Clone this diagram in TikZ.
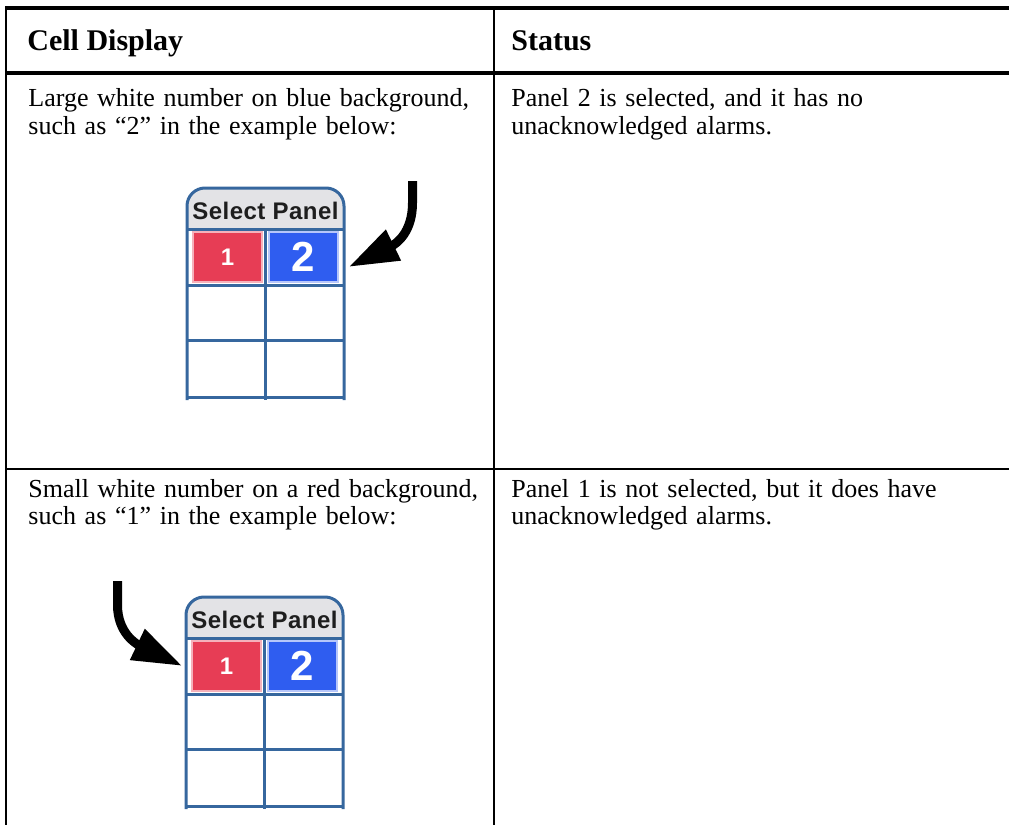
\documentclass[tikz,border=0pt]{standalone}
\usepackage{fontspec}
\setmainfont{Liberation Serif}[WordSpace=0.7]
\newfontfamily\headfont{Liberation Serif}
\newfontfamily\panelfont{Liberation Sans}[LetterSpace=2]
\usetikzlibrary{arrows.meta}
\definecolor{cellred}{HTML}{E73D55}
\definecolor{cellblue}{HTML}{2F5DF0}
\definecolor{gridblue}{HTML}{36679E}
\definecolor{headgrey}{HTML}{E3E3E6}
\definecolor{paneltext}{HTML}{1E1E1E}
\newcommand\selpanel[3]{%
  \begin{scope}[shift={(#2,#3)}]
    \fill[headgrey, rounded corners=9pt] (0,0) rectangle (157,60);
    \fill[white] (0,41) rectangle (157,62);
    \draw[panelrule, rounded corners=9pt] (0,212) -- (0,0) -- (157,0) -- (157,212);
    \draw[panelrule] (0,41) -- (157,41) (0,97) -- (157,97) (0,152) -- (157,152) (0,209) -- (157,209);
    \draw[panelrule] (78,41) -- (78,212);
    \node[panelhead] (#1head) at (78.5,23) {Select Panel};
    \node[redcell] (#1one) at (40.5,69) {1};
    \node[bluecell] (#1two) at (116.5,69) {2};
  \end{scope}}
\begin{document}
\begin{tikzpicture}[x=0.5pt, y=-0.5pt,
  thickrule/.style={line width=2pt, black},
  thinrule/.style={line width=1pt, black},
  headtext/.style={anchor=base west, inner sep=0pt, font=\headfont\fontsize{15}{18}\selectfont\bfseries},
  bodytext/.style={anchor=base west, inner sep=0pt, align=left, text width=260pt, font=\fontsize{13}{13.8}\selectfont},
  panelrule/.style={draw=gridblue, line width=1.5pt},
  panelhead/.style={inner sep=0pt, text=paneltext, font=\panelfont\fontsize{12}{12}\selectfont\bfseries},
  cellbase/.style={minimum width=34.5pt, minimum height=25pt, inner sep=0pt, line width=0.6pt, text=white},
  redcell/.style={cellbase, fill=cellred, draw=cellred!40, font=\panelfont\fontsize{12}{12}\selectfont\bfseries},
  bluecell/.style={cellbase, fill=cellblue, draw=cellblue!35, font=\panelfont\fontsize{21}{21}\selectfont\bfseries},
  pointer/.style={line width=4.5pt, black, -{Triangle[length=25pt, width=16pt]}}]
\useasboundingbox (0,0) rectangle (1009,825);
% table rules
\draw[thickrule] (5,8) -- (1009,8);
\draw[thickrule] (5,73) -- (1009,73);
\draw[thinrule] (5,469) -- (1009,469);
\draw[thinrule] (5.5,7) -- (5.5,825);
\draw[thinrule] (494,7) -- (494,825);
% texts
\node[headtext] (h1) at (27,50) {Cell Display};
\node[headtext] (h2) at (511,50) {Status};
\node[bodytext] (c11) at (28,106.7) {Large white number on blue background,\\such as “2” in the example below:};
\node[bodytext] (c12) at (511,106.7) {Panel 2 is selected, and it has no\\unacknowledged alarms.};
\node[bodytext] (c21) at (28,497) {Small white number on a red background,\\such as “1” in the example below:};
\node[bodytext] (c22) at (511,497) {Panel 1 is not selected, but it does have\\unacknowledged alarms.};
% panels
\selpanel{pa}{187}{188}
\selpanel{pb}{186}{597}
% pointers
\coordinate (s1) at (412.5,181);
\coordinate (s2) at (117.5,581);
\draw[pointer] (s1) -- ++(0,22) .. controls +(0,30) and +(47,-23) .. ([xshift=5pt,yshift=-5pt]patwo.east);
\draw[pointer] (s2) -- ++(0,24) .. controls +(0,28) and +(-46,-22) .. ([xshift=-4.5pt]pbone.west);
\end{tikzpicture}
\end{document}
